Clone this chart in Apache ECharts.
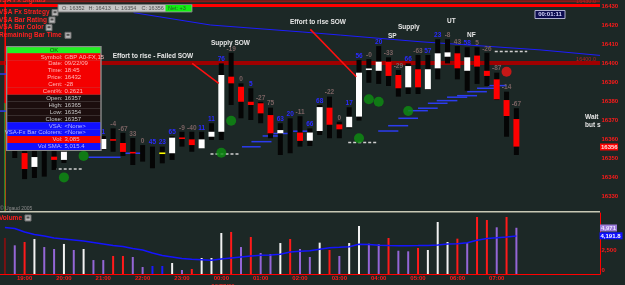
<!DOCTYPE html>
<html><head><meta charset="utf-8">
<script src="https://cdn.jsdelivr.net/npm/echarts@6/dist/echarts.min.js"></script>
<style>html,body{margin:0;padding:0;background:#1c2826;}#c{width:625px;height:285px;}</style>
</head><body><div id="c"></div>
<script>
// ---------- DATA ----------
const times = ['18:30','18:45','19:00','19:15','19:30','19:45','20:00','20:15','20:30','20:45',
 '21:00','21:15','21:30','21:45','22:00','22:15','22:30','22:45','23:00','23:15','23:30','23:45',
 '00:00','00:15','00:30','00:45','01:00','01:15','01:30','01:45','02:00','02:15','02:30','02:45',
 '03:00','03:15','03:30','03:45','04:00','04:15','04:30','04:45','05:00','05:15','05:30','05:45',
 '06:00','06:15','06:30','06:45','07:00','07:15','07:30'];
const emptySlots = 8;
const priceTicks = [16330,16340,16350,16360,16370,16380,16390,16400,16410,16420,16430];
const volumeTicks = [0,2500];

const opens = [null,16357,16352.6,16345.3,16347,16350.7,16349,16359,16366,16360,16354.7,16359.5,16357.9,16352.8,16352,16350,16352.5,16352.5,16360.4,16359.8,16355.1,16361.2,16363.8,16392.8,16387.5,16379.6,16378.8,16372.6,16363,16362,16363.4,16359.1,16364.2,16376.5,16367.7,16366.2,16371.8,16396.7,16395.9,16400.7,16393.7,16387.2,16396.7,16386.2,16397.2,16403.3,16405.1,16395.9,16403.9,16395.9,16391.4,16380.5,16370.5];
const highs = [null,16365,16358,16355,16356,16357,16358,16368,16370,16366,16361.6,16365.6,16363.2,16360.5,16356.8,16356,16356,16361.5,16363.8,16363.8,16363.8,16368.3,16399.8,16405.4,16389.3,16386.7,16379.6,16376.5,16368.3,16370.9,16372,16365.6,16377.9,16382.3,16369.1,16376.7,16401.6,16402,16408.9,16403,16396.3,16399.8,16404.2,16404.2,16412.5,16412.5,16408.9,16408.3,16408.3,16405.4,16394.9,16384.9,16376.2];
const lows = [null,16350,16338.9,16339.5,16340.2,16343.7,16347.4,16356,16358,16357,16354.2,16353.3,16351.1,16346.3,16348.1,16344.6,16347.2,16349,16356,16353.3,16355.1,16359.5,16359.5,16377.9,16370.9,16370,16368.3,16360.4,16351.6,16352.5,16356,16356.3,16362.1,16360.4,16360.4,16365.6,16369.7,16389.6,16389,16387.9,16382.3,16383.7,16383.7,16385.8,16391.4,16399.8,16391.4,16385.4,16389,16387.9,16380.5,16361.2,16351.6];
const closes = [null,16357,16344.2,16350.5,16347,16349,16353.3,16364,16361,16362,16360,16359.5,16353.2,16352.8,16352,16350,16352.5,16360.7,16360.4,16356.8,16359.8,16363.8,16393.7,16389.3,16379.6,16377.9,16373.5,16363,16364.7,16362,16359,16363.4,16376.8,16367.5,16365.1,16371.7,16394.9,16396.7,16400.7,16393.2,16386.7,16398.4,16387.2,16396.7,16405.1,16405.6,16397.2,16403,16398.1,16393.2,16380.9,16372.1,16356];
// body colour key: W white, R red, Y yellow, '' none
const bodyKeys = ['', '', 'R','W','', 'R','W','W','R','W','W','R','R','R','', '', 'Y','W','R','R','W','W','W','R','R','R','R','R','W','', 'R','W','W','R','R','W','W','W','W','R','R','W','R','W','W','W','R','W','R','R','R','R','R'];
const ratings = ['','','','','','','','','','','1','-4','-67','33','0','45','23','65','-9','-40','11','11','76','-19','0','5','-27','75','63','20','-11','66','68','-22','0','17','56','-0','20','-33','-29','66','-63','57','23','-8','43','58','5','-26','-87','-14','-67'];
// rating colour key: B blue, G grey
const ratingKeys = ['','','','','','','','','','','B','G','G','G','G','B','B','B','G','G','B','B','B','G','G','B','G','G','B','B','G','B','B','G','G','B','B','G','B','G','G','B','G','B','B','G','G','B','G','G','G','G','G'];

const volumes = [3870,3085,3440,3760,2900,2690,3230,2580,2690,1500,1500,1940,1940,1830,750,860,860,1180,430,540,1720,1720,4410,4520,2900,3980,2260,2150,3330,3760,2690,1830,3370,2580,1940,3330,5160,3260,3190,3870,2500,2440,2800,2580,5590,3440,3800,3330,6130,5810,5020,6130,4971];
const volKeys = ['D','P','R','W','P','P','W','P','W','P','P','R','R','P','P','B','B','W','P','R','W','W','W','R','P','R','P','P','W','R','P','P','W','R','P','W','W','P','P','R','P','P','R','W','W','W','R','P','R','R','P','R','P'];
const volSMA = [4990,4900,4516,4247,4086,3871,3763,3656,3548,3387,3226,3065,2957,2742,2581,2258,1989,1828,1667,1581,1527,1473,1613,1720,1828,1935,2022,2043,2118,2366,2441,2495,2667,2817,2871,2935,3194,3161,3097,3054,3043,3043,3054,3075,3118,3226,3247,3366,3634,3817,3892,3978,4086];

const greenDots = [[6,16339.8],[8,16351.1],[22,16352.8],[23,16369.6],[36,16360.4],[37,16380.9],[38,16379.6],[41,16374.7]];
const redDots = [[51,16395.4]];
const trendLine = [[13.08,16426.5],[20.9,16420],[30.3,16416.3],[34.1,16414.7],[42.2,16411.2],[54.4,16406.9],[60.5,16404]];
const stepLevels = [[8.5,16350.4,11.75,16350.4],[12.06,16352.5,14,16352.5],[24.1,16355.9,26,16355.9],[25.06,16358.6,27.1,16358.6],[26.2,16361.6,28,16361.6],[27.3,16362.9,29.2,16362.9],[29.3,16364.1,30.8,16364.1],[37.95,16364.2,40,16364.2],[38.96,16367,41,16367],[40,16370.9,42,16370.9],[41,16374.9,43,16374.9],[42,16376.2,44,16376.2],[43,16378.8,45,16378.8],[43.9,16380.2,46,16380.2],[44.95,16382,47,16382],[45.97,16382.8,48,16382.8],[47,16384.9,49,16384.9],[48,16386.7,50,16386.7],[49.1,16388.1,51,16388.1],[-0.5,16394.2,0.3,16394.2],[-0.5,16374.7,0.3,16374.7]];
const dashLevels = [[4.96,16344.2,8,16344.2],[20.9,16352.1,23.9,16352.1],[34.9,16358.2,37.95,16358.2],[49.8,16406,53.1,16406]];
const topLine = [[-0.5,16430.3,60.5,16430.3]];
const cursorLine = [[-0.5,16432.5,60.5,16432.5]];
const level16400 = [[-0.5,16400,60.5,16400]];
const arrowLines = [[19.04,16399.8,21.74,16389.3],[31.05,16417.7,35.72,16392.8]];
const cursorRed = [[0,16433.2,0,16378.9]];
const cursorGreen = [[0,16378.9,0,16322.1]];

const tipRows = [['Symbol:','GBP A0-FX,15','R'],['Date:','09/22/09','R'],['Time:','18:45','R'],['Price:','16432','R'],['Cent:','-28','R'],['Cent%:','0.2621','R'],
 ['Open:','16357','K'],['High:','16365','K'],['Low:','16354','K'],['Close:','16357','K'],
 ['VSA:','<None>','B'],['VSA-Fx Bar Colorers:','<None>','B'],['Vol:','3,085','R'],['Vol SMA:','5,015.4','B']];
const infoItems = ['O: 16352','H: 16413','L: 16354','C: 16356'];
const indicatorNames = ['VSA Fx Strategy','VSA Bar Rating','VSA Bar Color','Remaining Bar Time'];

// ---------- STYLE ----------
const F = '"Liberation Sans", Arial, sans-serif';
const bodyCol = {W:'#ffffff', R:'#ff0000', Y:'#ffff00'};
const ratingCol = {B:'#2a2aff', G:'#7a6262'};
const volCol = {P:'#9466d6', R:'#ff1a1a', W:'#f2f2f2', B:'#1a1aff', D:'#7a1212'};

const categories = times.concat(new Array(emptySlots).fill(''));

const candleData = [];
for (let i = 0; i < opens.length; i++) if (opens[i] != null) candleData.push([i, opens[i], highs[i], lows[i], closes[i]]);

function renderCandle(params, api) {
  const i = api.value(0);
  const pH = api.coord([i, api.value(2)]), pL = api.coord([i, api.value(3)]);
  const pO = api.coord([i, api.value(1)]), pC = api.coord([i, api.value(4)]);
  const x = pH[0];
  const ch = [{type:'rect', shape:{x:x-2.5, y:pH[1], width:5, height:pL[1]-pH[1]}, style:{fill:'#050505'}}];
  const k = bodyKeys[i];
  if (k) {
    const top = Math.min(pO[1], pC[1]);
    const h = Math.max(Math.abs(pO[1]-pC[1]), 1.6);
    ch.push({type:'rect', shape:{x:x-3, y:top - (Math.abs(pO[1]-pC[1])<1.6?0.8:0), width:6, height:h}, style:{fill:bodyCol[k]}});
  }
  if (ratings[i]) ch.push({type:'text', style:{text:ratings[i], x:x, y:pH[1]-0.5, fill:ratingCol[ratingKeys[i]], font:'bold 6.5px '+F, textAlign:'center', textVerticalAlign:'bottom'}});
  return {type:'group', children:ch};
}
function segRender(style) {
  return function(params, api) {
    const a = api.coord([api.value(0), api.value(1)]);
    const b = api.coord([api.value(2), api.value(3)]);
    return {type:'line', shape:{x1:a[0], y1:a[1], x2:b[0], y2:b[1]}, style:style};
  };
}
function segSeries(data, style, z) {
  return {type:'custom', xAxisIndex:0, yAxisIndex:0, coordinateSystem:'cartesian2d', data:data, z:z,
    encode:{x:[0,2], y:[1,3]}, renderItem:segRender(style), silent:true, clip:false};
}

// ---------- GRAPHICS (UI overlays) ----------
const G = [];
const Z = 100;
function txt(x, y, s, fill, size, weight, align) {
  return {type:'text', z:Z, silent:true, style:{x:x, y:y, text:s, fill:fill, font:(weight||'normal')+' '+size+'px '+F, textAlign:align||'left', textVerticalAlign:'middle'}};
}
function rect(x, y, w, h, fill, stroke) {
  return {type:'rect', z:Z, silent:true, shape:{x:x, y:y, width:w, height:h}, style:{fill:fill, stroke:stroke||null, lineWidth:1}};
}
function icon(x, y) {
  G.push(rect(x, y-3, 6, 6, '#b8b8b8', '#707070'));
  G.push(rect(x+1.5, y-1.5, 3, 2, '#505050'));
}
// separator
G.push({type:'line', z:Z, silent:true, shape:{x1:0, y1:211.8, x2:600, y2:211.8}, style:{stroke:'#c8c8b4', lineWidth:1.6}});
// top-left indicator names
G.push(txt(-2, 0.5, 'VSA Fx Signals', '#ff2020', 6.5, 'bold'));
const nameY = [12.7, 20, 27.7, 35.3];
indicatorNames.forEach((n, k) => {
  G.push(txt(-1, nameY[k], n, '#ff2020', 6.5, 'bold'));
});
icon(52, 12.7); icon(49, 20); icon(46, 27.7); icon(65, 35.3);
// info box
G.push(rect(58, 4.5, 134, 7.5, '#c4c4c4', '#7a7a7a'));
const infoX = [62, 88.5, 115, 141.5];
infoItems.forEach((s, k) => G.push(txt(infoX[k], 8.3, s, '#505050', 5.5)));
G.push(rect(165.5, 5, 26, 6.5, '#10f010'));
G.push(txt(168, 8.3, 'Net: +3', '#305030', 5.5));
// clock
G.push(rect(535, 10.5, 30, 8, '#0c0c50', '#b0b0d0'));
G.push(txt(550, 14.6, '00:01:11', '#d8d8ff', 6, 'bold', 'center'));
// data window
G.push(rect(6, 46, 95.7, 105, '#8c8c8c'));
G.push(rect(7.3, 47.3, 93, 6, '#22f022'));
G.push(txt(54, 50.4, 'OK', '#0a500a', 6, 'normal', 'center'));
const secFill = {R:'#f40000', K:'#1c0e0e', B:'#1010ff'};
const secText = {R:'#ffb8b8', K:'#c8c8c8', B:'#b8b8ff'};
tipRows.forEach((r, k) => {
  const y0 = 53.3 + k*6.9;
  G.push(rect(7.3, y0, 93, 6.9, secFill[r[2]]));
  G.push(txt(62.5, y0+3.6, r[0], secText[r[2]], 6, 'normal', 'right'));
  G.push(txt(64.5, y0+3.6, r[1], secText[r[2]], 6, 'normal', 'left'));
});
// annotations
const W = '#e6e6e6';
G.push(txt(112.7, 56.7, 'Effort to rise - Failed SOW', W, 6.5, 'bold'));
G.push(txt(211, 43.3, 'Supply SOW', W, 6.5, 'bold'));
G.push(txt(290, 22, 'Effort to rise SOW', W, 6.5, 'bold'));
G.push(txt(398, 27.3, 'Supply', W, 6.5, 'bold'));
G.push(txt(388, 36.7, 'SP', W, 6.5, 'bold'));
G.push(txt(447, 21.7, 'UT', W, 6.5, 'bold'));
G.push(txt(467, 35, 'NF', W, 6.5, 'bold'));
G.push(txt(585, 117, 'Wait', W, 6.5, 'bold'));
G.push(txt(585, 125, 'but s', W, 6.5, 'bold'));
// level labels
G.push(txt(596, 1.5, '16430.0', '#b82020', 5.5, 'normal', 'right'));
G.push(txt(596, 59, '16400.0', '#b82020', 5.5, 'normal', 'right'));
// price / volume tags
G.push(rect(600, 143.5, 18, 7, '#ff0000'));
G.push(txt(601, 147.2, '16356', '#ffe0e0', 6, 'bold'));
G.push(rect(600, 224.5, 17, 7, '#9a7ad8'));
G.push(txt(601, 228.2, '4,971', '#ece4ff', 6, 'bold'));
G.push(rect(599.5, 232.3, 23, 7, '#1010ff'));
G.push(txt(600.5, 236, '4,191.8', '#ffffff', 6, 'bold'));
// volume title
G.push(txt(-1, 218.3, 'Volume', '#ff2020', 6.5, 'bold'));
icon(25, 218);
G.push(txt(0, 208.3, '© Ugaud 2005', '#8c8c8c', 5));
G.push(txt(223, 286, '09/23/09', '#ff2020', 6, 'bold', 'center'));

// ---------- CHART ----------
const chart = echarts.init(document.getElementById('c'), null, {renderer:'canvas'});
const option = {
  backgroundColor:'#1c2826',
  animation:false,
  grid:[
    {left:-0.725, width:600.725, top:0, height:211},
    {left:-0.725, width:600.725, top:213, height:61}
  ],
  xAxis:[
    {type:'value', gridIndex:0, min:-0.5, max:60.5, show:false},
    {type:'category', gridIndex:1, data:categories, boundaryGap:true,
     axisLine:{show:true, lineStyle:{color:'#ff0000', width:1}}, axisTick:{show:false},
     axisLabel:{color:'#ff1a1a', fontSize:6, fontWeight:'bold', fontFamily:F, margin:1.5,
       interval:function(idx, val){ return typeof val === 'string' && val.slice(-3) === ':00'; }},
     splitLine:{show:false}}
  ],
  yAxis:[
    {type:'value', gridIndex:0, position:'right', min:16322.105, max:16433.158,
     axisLine:{show:true, lineStyle:{color:'#ff0000', width:1}}, axisTick:{show:false}, splitLine:{show:false},
     axisLabel:{customValues:priceTicks, color:'#ff1a1a', fontSize:6, fontWeight:'bold', fontFamily:F, margin:1.5, formatter:function(v){return String(v);}}},
    {type:'value', gridIndex:1, position:'right', min:0, max:6559,
     axisLine:{show:true, lineStyle:{color:'#ff0000', width:1}}, axisTick:{show:false}, splitLine:{show:false},
     axisLabel:{customValues:volumeTicks, color:'#ff1a1a', fontSize:6, fontWeight:'bold', fontFamily:F, margin:1.5,
       formatter:function(v){ return v === 0 ? '{z|0}' : v.toLocaleString('en-US'); },
       rich:{z:{color:'#ff1a1a', fontSize:6, fontWeight:'bold', fontFamily:F, padding:[0,0,8,0]}}}}
  ],
  series:[
    segSeries(cursorLine, {stroke:'#8a1818', lineWidth:2}, 1),
    segSeries(topLine, {stroke:'#ff0000', lineWidth:3}, 1),
    segSeries(level16400, {stroke:'#a00000', lineWidth:4}, 1),
    segSeries(cursorRed, {stroke:'#ff0000', lineWidth:1}, 1),
    segSeries(cursorGreen, {stroke:'#30c030', lineWidth:1}, 1),
    {type:'line', xAxisIndex:0, yAxisIndex:0, data:trendLine, symbol:'none', z:2,
     lineStyle:{color:'#1c1cff', width:1}, silent:true},
    segSeries(stepLevels, {stroke:'#2c3cf0', lineWidth:1.5}, 2),
    segSeries(dashLevels, {stroke:'#cfcfcf', lineWidth:1.5, lineDash:[3,2]}, 2),
    {type:'custom', xAxisIndex:0, yAxisIndex:0, data:candleData, encode:{x:0, y:[1,2,3,4]},
     renderItem:renderCandle, z:3, silent:true, clip:false},
    {type:'scatter', xAxisIndex:0, yAxisIndex:0, data:greenDots, symbolSize:10, z:4,
     itemStyle:{color:'#0e8e12'}, silent:true},
    {type:'scatter', xAxisIndex:0, yAxisIndex:0, data:redDots, symbolSize:10, z:4,
     itemStyle:{color:'#f01414'}, silent:true},
    segSeries(arrowLines, {stroke:'#ff1010', lineWidth:1.5}, 5),
    {type:'bar', xAxisIndex:1, yAxisIndex:1, barWidth:2, z:3, silent:true,
     data:volumes.map((v, i) => ({value:v, itemStyle:{color:volCol[volKeys[i]]}}))},
    {type:'line', xAxisIndex:1, yAxisIndex:1, data:volSMA, symbol:'none', z:4, silent:true,
     lineStyle:{color:'#1414ff', width:1.5}}
  ],
  graphic:G
};
chart.setOption(option);
</script></body></html>
